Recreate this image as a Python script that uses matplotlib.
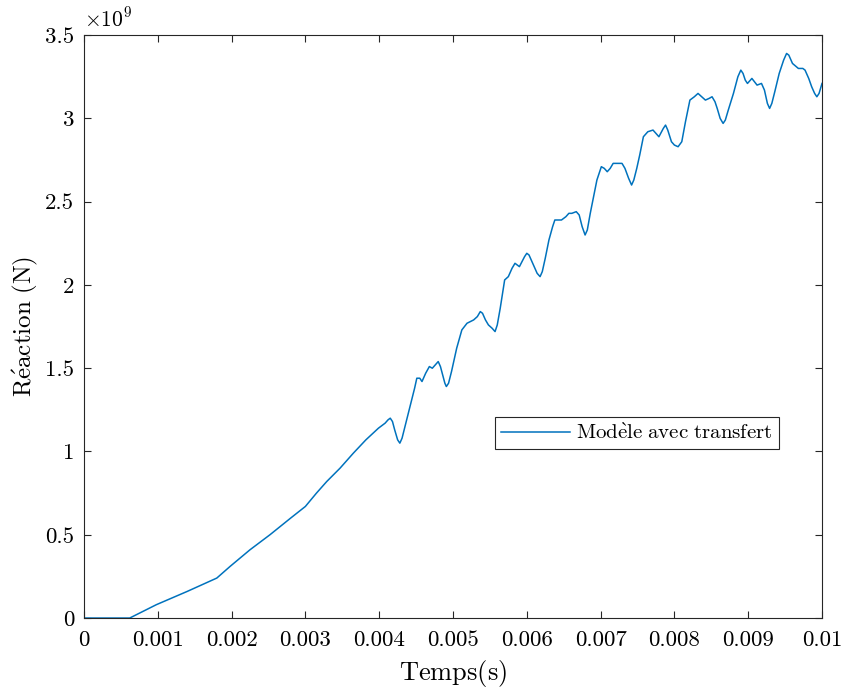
import numpy as np
import matplotlib
matplotlib.use("Agg")
import matplotlib.pyplot as plt
from matplotlib.ticker import FuncFormatter, MultipleLocator

# time (ms) and reaction (x 1e9 N)
t_ms = [0, 0.62, 0.98, 1.40, 1.80, 1.98, 2.25, 2.52, 2.80, 3.00, 3.15, 3.29,
        3.47, 3.65, 3.82, 3.99, 4.08, 4.12, 4.15, 4.18, 4.21, 4.25, 4.28, 4.31,
        4.35, 4.42, 4.48, 4.51, 4.55, 4.58, 4.63, 4.68, 4.72, 4.76, 4.80, 4.83,
        4.86, 4.89, 4.91, 4.94, 4.98, 5.05, 5.12, 5.19, 5.28, 5.33, 5.37, 5.40,
        5.44, 5.48, 5.53, 5.57, 5.60, 5.64, 5.70, 5.75, 5.80, 5.84, 5.90, 5.97,
        6.00, 6.03, 6.08, 6.14, 6.18, 6.21, 6.25, 6.30, 6.35, 6.38, 6.47, 6.53,
        6.57, 6.61, 6.67, 6.71, 6.75, 6.79, 6.82, 6.86, 6.90, 6.95, 7.01, 7.05,
        7.09, 7.13, 7.17, 7.23, 7.29, 7.33, 7.38, 7.42, 7.45, 7.49, 7.53, 7.58,
        7.64, 7.71, 7.79, 7.85, 7.88, 7.91, 7.96, 8.00, 8.05, 8.10, 8.15, 8.21,
        8.27, 8.32, 8.37, 8.42, 8.47, 8.51, 8.55, 8.58, 8.62, 8.66, 8.69, 8.73,
        8.80, 8.86, 8.90, 8.93, 8.96, 8.99, 9.05, 9.12, 9.18, 9.22, 9.26, 9.29,
        9.32, 9.36, 9.42, 9.48, 9.52, 9.55, 9.60, 9.68, 9.74, 9.77, 9.82, 9.86,
        9.90, 9.93, 9.96, 10.0]
reaction = [0, 0, 0.08, 0.16, 0.24, 0.31, 0.41, 0.50, 0.60, 0.67, 0.75, 0.82,
            0.90, 0.99, 1.07, 1.14, 1.17, 1.19, 1.20, 1.18, 1.13, 1.07, 1.05, 1.08,
            1.15, 1.27, 1.38, 1.44, 1.44, 1.42, 1.47, 1.51, 1.50, 1.52, 1.54, 1.51,
            1.46, 1.41, 1.39, 1.41, 1.48, 1.62, 1.73, 1.77, 1.79, 1.81, 1.84, 1.83,
            1.79, 1.76, 1.74, 1.72, 1.76, 1.86, 2.03, 2.05, 2.10, 2.13, 2.11, 2.17,
            2.19, 2.18, 2.13, 2.07, 2.05, 2.08, 2.16, 2.27, 2.35, 2.39, 2.39, 2.41,
            2.43, 2.43, 2.44, 2.42, 2.35, 2.30, 2.33, 2.43, 2.52, 2.63, 2.71, 2.70,
            2.68, 2.70, 2.73, 2.73, 2.73, 2.70, 2.64, 2.60, 2.63, 2.70, 2.78, 2.89,
            2.92, 2.93, 2.89, 2.94, 2.96, 2.93, 2.86, 2.84, 2.83, 2.86, 2.98, 3.11,
            3.13, 3.15, 3.13, 3.11, 3.12, 3.13, 3.10, 3.06, 3.00, 2.97, 2.99, 3.05,
            3.15, 3.25, 3.29, 3.27, 3.23, 3.21, 3.24, 3.20, 3.21, 3.17, 3.09, 3.06,
            3.09, 3.16, 3.27, 3.35, 3.39, 3.38, 3.33, 3.30, 3.30, 3.29, 3.24, 3.19,
            3.15, 3.13, 3.15, 3.21]

plt.rcParams['font.family'] = ['cmr10', 'DejaVu Serif']
plt.rcParams['mathtext.fontset'] = 'cm'
plt.rcParams['axes.unicode_minus'] = False

t = np.array(t_ms) * 1e-3
r = np.array(reaction)

fig = plt.figure(figsize=(8.43, 6.89), dpi=100)
ax = fig.add_axes([0.0996, 0.103, 0.8755, 0.846])

ax.plot(t, r, color='#0072BD', linewidth=1.1,
        label=r'$\mathrm{Mod\grave{e}le\ avec\ transfert}$')

ax.set_xlim(0, 0.01)
ax.set_ylim(0, 3.5)
ax.xaxis.set_major_locator(MultipleLocator(0.001))
ax.yaxis.set_major_locator(MultipleLocator(0.5))
ax.xaxis.set_major_formatter(FuncFormatter(lambda v, p: '%g' % round(v, 4)))
ax.yaxis.set_major_formatter(FuncFormatter(lambda v, p: '%g' % v))

for s in ax.spines.values():
    s.set_color('#262626')
    s.set_linewidth(0.8)
ax.tick_params(direction='in', top=True, right=True, length=5,
               width=0.8, color='#262626', labelsize=16.5)
ax.tick_params(axis='x', pad=9)
ax.tick_params(axis='y', pad=7)

ax.set_xlabel(r'$\mathrm{Temps(s)}$', fontsize=19, labelpad=6)
ax.set_ylabel(r'$\mathrm{R\acute{e}action\ (N)}$', fontsize=18, labelpad=4)
ax.text(0.0, 1.008, r'$\times10^{9}$', transform=ax.transAxes,
        fontsize=15.5, ha='left', va='bottom')

leg = ax.legend(loc='center', bbox_to_anchor=(0.749, 0.317), fontsize=15,
                fancybox=False, framealpha=1, edgecolor='#262626',
                handlelength=3.3, borderpad=0.3, handletextpad=0.3)
leg.get_frame().set_linewidth(0.8)

fig.savefig('out.png', dpi=100)
